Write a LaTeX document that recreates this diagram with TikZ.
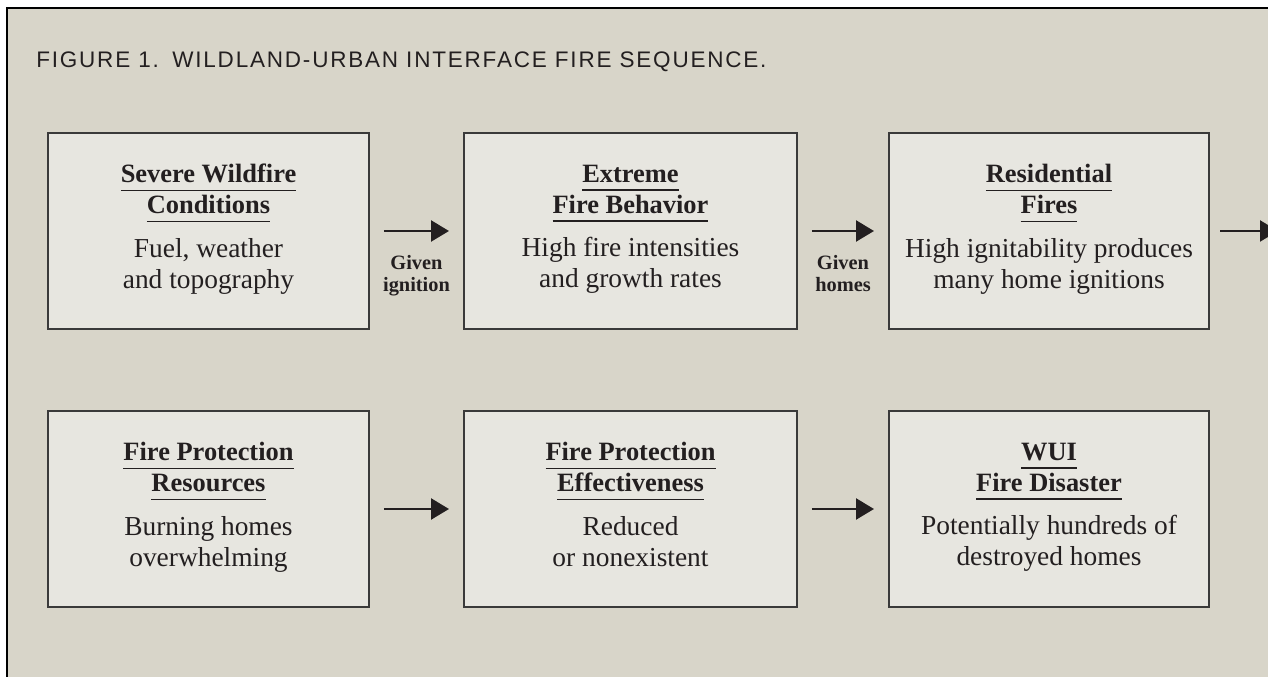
\documentclass[tikz,border=0pt]{standalone}
\usepackage{fontspec}
\setmainfont{Liberation Serif}
\newfontfamily\figfont[LetterSpace=8]{Liberation Sans}
\usetikzlibrary{arrows.meta,positioning}
\definecolor{panel}{HTML}{D8D5C9}
\definecolor{boxfill}{HTML}{E7E6E0}
\definecolor{boxline}{HTML}{3A3A3A}
\definecolor{ink}{HTML}{231F20}
\newcommand\ulhead[1]{\leavevmode\setbox0\hbox{\fontsize{18.8}{22}\bfseries #1}\rlap{\rule[-6pt]{\wd0}{0.9pt}}\box0}
\tikzset{
	stage/.style={draw=boxline, fill=boxfill, line width=1.4pt, minimum width=8.025cm,
		minimum height=4.9cm, align=center, text=ink, font=\fontsize{19.5}{22}\selectfont,
		inner sep=0pt, execute at end node=\strut},
	flow/.style={draw=ink, line width=2.1pt, ->, shorten <=0.35cm, shorten >=0.35cm},
	lbl/.style={font=\fontsize{14.5}{15.6}\selectfont\bfseries, text=ink, align=center,
		inner sep=0pt},
	figttl/.style={font=\figfont\fontsize{16}{18}\selectfont, text=ink, inner sep=0pt},
}
\begin{document}
\begin{tikzpicture}[x=1cm, y=1cm, >={Triangle[length=4.5mm,width=5.2mm]}]
				\useasboundingbox (0,0) rectangle (31.7,16.925);
				\clip (0,0) rectangle (31.7,16.925);
				\filldraw[fill=panel, draw=black, line width=1.4pt] (0.167,-1.00) rectangle (33.00,16.72);
				\node[figttl, anchor=base west] at (0.90,15.225) (ttl) {FIGURE 1.\hspace{0.6em}WILDLAND-URBAN INTERFACE FIRE SEQUENCE.};
				% top row
				\node[stage] at (5.2125,11.15) (sev) {\ulhead{Severe Wildfire}\\\ulhead{Conditions}\\[9pt]Fuel, weather\\and topography};
				\node[stage, minimum width=8.325cm] at (15.7625,11.15) (ext) {\ulhead{Extreme}\\\ulhead{Fire Behavior}\\[9pt]High fire intensities\\and growth rates};
				\node[stage, minimum width=8.0cm] at (26.225,11.15) (res) {\ulhead{Residential}\\\ulhead{Fires}\\[9pt]High ignitability produces\\many home ignitions};
				% bottom row
				\node[stage] at (5.2125,4.20) (fpr) {\ulhead{Fire Protection}\\\ulhead{Resources}\\[9pt]Burning homes\\overwhelming};
				\node[stage, minimum width=8.325cm] at (15.7625,4.20) (fpe) {\ulhead{Fire Protection}\\\ulhead{Effectiveness}\\[9pt]Reduced\\or nonexistent};
				\node[stage, minimum width=8.0cm] at (26.225,4.20) (wui) {\ulhead{WUI}\\\ulhead{Fire Disaster}\\[9pt]Potentially hundreds of\\destroyed homes};
				\coordinate (edge) at (31.95,11.15);
				\draw[flow] (sev) -- node[lbl, below=0.575cm] {Given\\ignition} (ext);
				\draw[flow] (ext) -- node[lbl, below=0.575cm] {Given\\homes} (res);
				\draw[flow, shorten <=0.25cm, shorten >=0pt] (res) -- (edge);
				\draw[flow] (fpr) -- (fpe);
				\draw[flow] (fpe) -- (wui);
			\end{tikzpicture}
\end{document}
